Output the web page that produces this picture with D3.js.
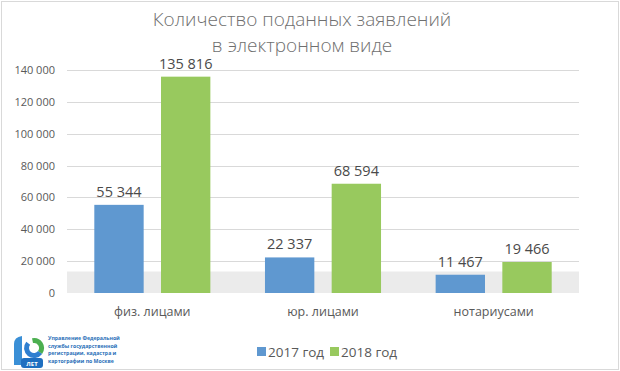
<!DOCTYPE html>
<html>
<head>
<meta charset="utf-8">
<script src="https://cdn.jsdelivr.net/npm/d3@7"></script>
<style>
  body { margin: 0; background: #fff; }
  svg { display: block; font-family: "Open Sans", "Noto Sans", sans-serif; }
</style>
</head>
<body>
<div id="chart"></div>
<script>
var width = 620,
    height = 371;
var margin = { top: 70, right: 41, bottom: 78, left: 67 };

// data
var categories = ["физ. лицами", "юр. лицами", "нотариусами"];
var seriesNames = ["2017 год", "2018 год"];
var values2017 = [55344, 22337, 11467];
var values2018 = [135816, 68594, 19466];
var yTicks = [0, 20000, 40000, 60000, 80000, 100000, 120000, 140000];
var titleLines = ["Количество поданных заявлений", "в электронном виде"];
var logoText = ["Управление Федеральной", "службы государственной", "регистрации, кадастра и", "картографии по Москве"];

var colors = ["#5f98d0", "#98c95e"];
var fontColor = "#595959";

var svg = d3.select("#chart")
    .append("svg")
    .attr("width", width)
    .attr("height", height);

// frame
svg.append("rect")
    .attr("x", 1.5).attr("y", 1.5)
    .attr("width", width - 3).attr("height", height - 3)
    .attr("fill", "#fff")
    .attr("stroke", "#d9d9d9");

var innerW = width - margin.left - margin.right;
var innerH = height - margin.top - margin.bottom;

var x = d3.scaleBand()
    .domain(categories)
    .range([margin.left, margin.left + innerW])
    .paddingInner(0.32)
    .paddingOuter(0.16);

var x1 = d3.scaleBand()
    .domain(seriesNames)
    .range([0, x.bandwidth()])
    .paddingInner(0.26);

var y = d3.scaleLinear()
    .domain([0, 140000])
    .range([margin.top + innerH, margin.top]);

// floor band
svg.append("rect")
    .attr("x", margin.left)
    .attr("y", y(13500))
    .attr("width", innerW)
    .attr("height", y(0) - y(13500))
    .attr("fill", "#ebebeb");

// grid
svg.append("g")
    .selectAll("line")
    .data(yTicks.slice(1))
    .join("line")
    .attr("x1", margin.left)
    .attr("x2", margin.left + innerW)
    .attr("y1", d => Math.round(y(d)) + 0.5)
    .attr("y2", d => Math.round(y(d)) + 0.5)
    .attr("stroke", "#d9d9d9");

// y labels
var fmt = d => d3.format(",")(d).replace(/,/g, " ");
svg.append("g")
    .selectAll("text")
    .data(yTicks)
    .join("text")
    .attr("x", 55)
    .attr("y", d => y(d) + 4)
    .attr("text-anchor", "end")
    .style("font-size", "11px")
    .style("fill", fontColor)
    .text(fmt);

// bars
var rows = categories.map((c, i) => ({ cat: c, vals: [values2017[i], values2018[i]] }));
var groups = svg.append("g")
    .selectAll("g")
    .data(rows)
    .join("g")
    .attr("transform", d => "translate(" + x(d.cat) + ",0)");

groups.selectAll("rect")
    .data(d => d.vals.map((v, j) => ({ key: seriesNames[j], v: v, j: j })))
    .join("rect")
    .attr("x", d => x1(d.key))
    .attr("y", d => y(d.v))
    .attr("width", x1.bandwidth())
    .attr("height", d => y(0) - y(d.v))
    .attr("fill", d => colors[d.j]);

groups.selectAll("text.val")
    .data(d => d.vals.map((v, j) => ({ key: seriesNames[j], v: v })))
    .join("text")
    .attr("class", "val")
    .attr("x", d => x1(d.key) + x1.bandwidth() / 2)
    .attr("y", d => y(d.v) - 8)
    .attr("text-anchor", "middle")
    .style("font-size", "14.5px")
    .style("fill", "#4a4a4a")
    .text(d => fmt(d.v));

// category labels
svg.append("g")
    .selectAll("text")
    .data(categories)
    .join("text")
    .attr("x", d => x(d) + x.bandwidth() / 2)
    .attr("y", 316)
    .attr("text-anchor", "middle")
    .style("font-size", "12.5px")
    .style("fill", fontColor)
    .text(d => d);

// title
svg.append("g")
    .selectAll("text")
    .data(titleLines)
    .join("text")
    .attr("x", 302)
    .attr("y", (d, i) => 26 + i * 26)
    .attr("text-anchor", "middle")
    .style("font-size", "19px")
    .style("font-weight", 300)
    .style("fill", "#6f6f6f")
    .text(d => d);

// legend
var legend = svg.append("g")
    .selectAll("g")
    .data(seriesNames)
    .join("g")
    .attr("transform", (d, i) => "translate(" + (257 + i * 73) + ",347)");

legend.append("rect")
    .attr("width", 9).attr("height", 9)
    .attr("fill", (d, i) => colors[i]);

legend.append("text")
    .attr("x", 11)
    .attr("y", 9.5)
    .style("font-size", "13.5px")
    .style("fill", fontColor)
    .text(d => d);

// logo
var logo = svg.append("g").attr("transform", "translate(12,335)");
logo.append("path")
    .attr("d", "M2,9 Q2,2 10,1 L10,30 L2,30 Z")
    .attr("fill", "#3a8fd6");
logo.append("path")
    .attr("d", d3.arc().innerRadius(5).outerRadius(10).startAngle(-0.2).endAngle(2.2)())
    .attr("transform", "translate(22,13)")
    .attr("fill", "#4caf50");
logo.append("path")
    .attr("d", d3.arc().innerRadius(5).outerRadius(10).startAngle(2.2).endAngle(5.4)())
    .attr("transform", "translate(22,13)")
    .attr("fill", "#2f7fd0");
logo.append("rect")
    .attr("x", 9).attr("y", 23).attr("width", 22).attr("height", 10)
    .attr("rx", 3)
    .attr("fill", "#1f6fc0");
logo.append("text")
    .attr("x", 20).attr("y", 31)
    .attr("text-anchor", "middle")
    .style("font-size", "6px")
    .style("font-weight", "bold")
    .style("fill", "#fff")
    .text("ЛЕТ");
logo.append("g")
    .selectAll("text")
    .data(logoText)
    .join("text")
    .attr("x", 36)
    .attr("y", (d, i) => 5 + i * 7.5)
    .style("font-size", "5.2px")
    .style("font-weight", "bold")
    .style("fill", "#2a6fb8")
    .text(d => d);
</script>
</body>
</html>
